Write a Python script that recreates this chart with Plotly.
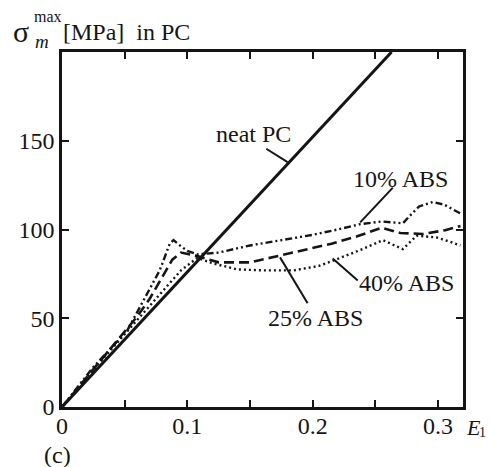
import plotly.graph_objects as go

# ---- data ----
neat_x = [0.0, 0.263]
neat_y = [0.0, 200.0]

abs10_x = [0.0, 0.025, 0.052, 0.070, 0.078, 0.086, 0.089, 0.095, 0.100, 0.108, 0.125, 0.150,
           0.175, 0.200, 0.220, 0.238, 0.255, 0.272, 0.278, 0.285, 0.296, 0.305, 0.318]
abs10_y = [0.0, 22.5, 43.0, 66.0, 77.0, 92.0, 94.0, 90.5, 88.0, 86.0, 87.0, 91.0,
           94.0, 97.0, 100.0, 103.0, 104.5, 103.5, 108.0, 113.0, 115.5, 114.0, 109.0]

abs25_x = [0.0, 0.020, 0.040, 0.060, 0.070, 0.080, 0.088, 0.095, 0.108, 0.125, 0.150, 0.175,
           0.200, 0.215, 0.235, 0.255, 0.270, 0.288, 0.305, 0.318]
abs25_y = [0.0, 17.0, 34.0, 51.0, 61.0, 73.0, 83.0, 87.0, 85.0, 81.5, 81.5, 85.5,
           89.5, 92.0, 96.0, 101.0, 98.0, 97.5, 99.5, 102.0]

abs40_x = [0.0, 0.020, 0.040, 0.060, 0.080, 0.095, 0.108, 0.120, 0.140, 0.160, 0.185, 0.205,
           0.222, 0.240, 0.256, 0.272, 0.283, 0.299, 0.310, 0.318]
abs40_y = [0.0, 17.0, 33.0, 49.0, 65.0, 77.0, 84.0, 81.0, 77.5, 77.0, 77.0, 79.5,
           84.0, 89.0, 94.0, 89.0, 96.5, 95.5, 93.0, 91.0]

x_tickvals = [0.0, 0.05, 0.1, 0.15, 0.2, 0.25, 0.3]
x_ticktext = ["0", "", "0.1", "", "0.2", "", "0.3"]
y_tickvals = [0, 50, 100, 150, 200]
y_ticktext = ["0", "50", "100", "150", ""]

# curve labels: (text, text x, text y, leader start x, y, leader end x, y)
labels = [
    ("neat PC", 0.153, 154.0, 0.163, 145.5, 0.180, 138.0),
    ("10% ABS", 0.2705, 128.7, 0.264, 123.6, 0.238, 104.0),
    ("40% ABS", 0.275, 69.7, 0.236, 71.3, 0.216, 83.7),
    ("25% ABS", 0.202, 50.0, 0.196, 58.4, 0.174, 84.3),
]

FONT = "Liberation Serif"
INK = "#151515"
FS = 24

fig = go.Figure()
fig.add_trace(go.Scatter(x=neat_x, y=neat_y, mode="lines",
                         line=dict(color=INK, width=3), name="neat PC"))
fig.add_trace(go.Scatter(x=abs10_x, y=abs10_y, mode="lines",
                         line=dict(color=INK, width=2.4, dash="7px,3px,2px,3px,2px,3px"), name="10% ABS"))
fig.add_trace(go.Scatter(x=abs25_x, y=abs25_y, mode="lines",
                         line=dict(color=INK, width=2.6, dash="10px,5px"), name="25% ABS"))
fig.add_trace(go.Scatter(x=abs40_x, y=abs40_y, mode="lines",
                         line=dict(color=INK, width=2.4, dash="2px,3px"), name="40% ABS"))

for text, tx, ty, sx, sy, ex, ey in labels:
    fig.add_annotation(x=tx, y=ty, text=text, showarrow=False,
                       font=dict(family=FONT, size=FS, color=INK))
    fig.add_shape(type="line", x0=sx, y0=sy, x1=ex, y1=ey,
                  line=dict(color=INK, width=2))

axis_common = dict(showgrid=False, zeroline=False, showline=True, linecolor=INK,
                   linewidth=2.5, mirror="ticks", ticks="inside", ticklen=7,
                   tickwidth=2, tickcolor=INK,
                   tickfont=dict(family=FONT, size=FS, color=INK))

fig.update_xaxes(range=[0, 0.32], tickvals=x_tickvals, ticktext=x_ticktext,
                 ticklabelstandoff=-5, **axis_common)
fig.update_yaxes(range=[0, 200], tickvals=y_tickvals, ticktext=y_ticktext, **axis_common)

# plot area in the window: x 62..463 px, y 52..407 px
def px(xp):
    return (xp - 62) / 401.0

def py(yp):
    return (407 - yp) / 355.0

texts = [
    ("σ", 11, 31, 30),
    ("max", 32, 17, 16),
    ("<i>m</i>", 33, 41, 19),
    ("[MPa]  in PC", 61, 32, FS),
    ("(c)", 42, 455, FS),
    ("<i>E</i>", 464, 427, 22),
    ("1", 477, 433, 14),
]
for t, xp, yp, size in texts:
    fig.add_annotation(x=px(xp), y=py(yp), xref="paper", yref="paper", text=t,
                       showarrow=False, xanchor="left", yanchor="middle",
                       font=dict(family=FONT, size=size, color=INK))

# page body has an 8px margin: place the plot area at 62..463 x 52..407 in the window
fig.update_layout(width=487, height=459, showlegend=False,
                  margin=dict(l=54, r=32, t=44, b=60, autoexpand=False),
                  plot_bgcolor="white", paper_bgcolor="white")

fig.write_html("out.html")
